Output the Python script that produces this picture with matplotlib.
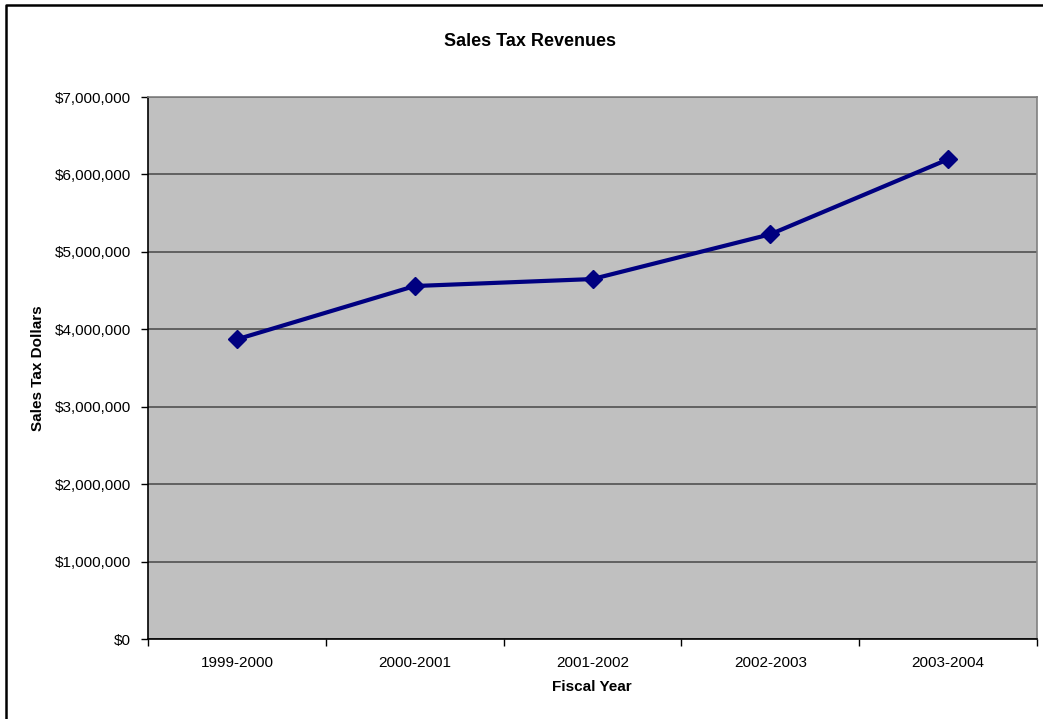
import matplotlib.pyplot as plt
from matplotlib.lines import Line2D
from matplotlib.ticker import FuncFormatter, MultipleLocator

years = ["1999-2000", "2000-2001", "2001-2002", "2002-2003", "2003-2004"]
revenue = [3872000, 4560000, 4650000, 5228000, 6196000]

plt.rcParams['font.family'] = ['Liberation Sans', 'DejaVu Sans']

W, H = 1043, 719
fig = plt.figure(figsize=(W / 100, H / 100), dpi=100)
ax = fig.add_axes([148 / W, 1 - 639.3 / H, (1037 - 148) / W, (639.3 - 97) / H])

ax.set_facecolor('#c0c0c0')
x = range(len(years))
ax.set_xlim(-0.5, len(years) - 0.5)
ax.set_ylim(0, 7000000)
ax.yaxis.set_major_locator(MultipleLocator(1000000))
ax.yaxis.set_major_formatter(FuncFormatter(lambda v, p: '${:,.0f}'.format(v)))
ax.grid(axis='y', color='#5a5a5a', lw=1.3)
ax.set_axisbelow(True)

ax.plot(x, revenue, color='#000080', lw=3, marker='D', ms=9.5, zorder=3)

ax.set_xticks(list(x))
ax.set_xticklabels(years)
ax.set_xticks([i + 0.5 for i in range(-1, len(years))], minor=True)
ax.tick_params(axis='x', which='major', length=0, pad=12, labelsize=11)
ax.tick_params(axis='x', which='minor', length=5, width=1, direction='out')
ax.tick_params(axis='y', length=5, width=1, labelsize=11, pad=7)

for s in ['left', 'bottom']:
    ax.spines[s].set_color('black')
    ax.spines[s].set_linewidth(1.2)
for s in ['top', 'right']:
    ax.spines[s].set_color('#808080')
    ax.spines[s].set_linewidth(1.2)

fig.text(530 / W, 1 - 41 / H, 'Sales Tax Revenues', ha='center', va='center',
         fontsize=13, fontweight='bold')
fig.text(592 / W, 1 - 687 / H, 'Fiscal Year', ha='center', va='center',
         fontsize=11, fontweight='bold')
fig.text(38 / W, 1 - 368 / H, 'Sales Tax Dollars', ha='center', va='center',
         rotation=90, fontsize=11, fontweight='bold')

# outer frame: only left and top edges show
fig.lines.append(Line2D([6 / W, 6 / W, 1], [0, 1 - 5 / H, 1 - 5 / H],
                        transform=fig.transFigure, color='black', lw=1.8))

fig.savefig('out.png', dpi=100)
